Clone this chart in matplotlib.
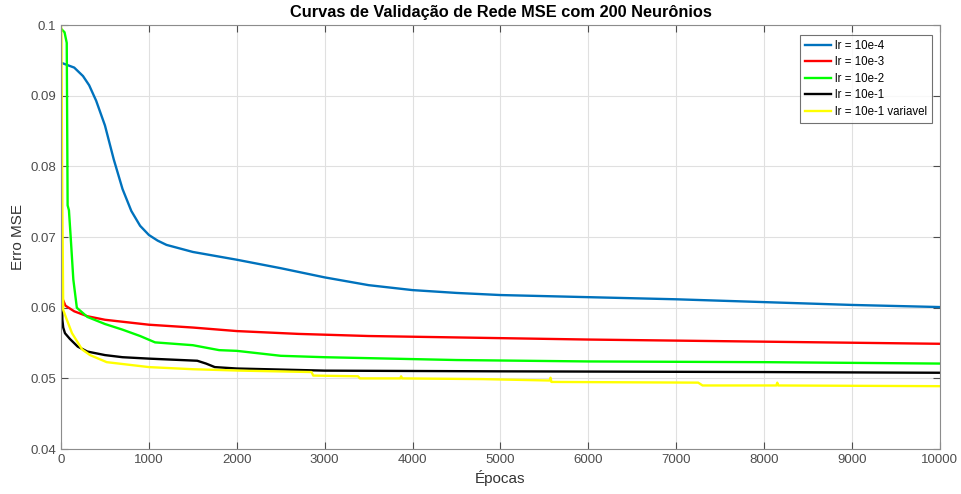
import matplotlib
matplotlib.use("Agg")
import matplotlib.pyplot as plt

plt.rcParams['font.family'] = ['Liberation Sans', 'DejaVu Sans']

# lr = 10e-4
ep_a = [20, 150, 250, 320, 400, 500, 600, 700, 800, 900, 1000, 1100, 1200, 1500, 2000,
        2500, 3000, 3500, 4000, 4500, 5000, 6000, 7000, 8000, 9000, 10000]
mse_a = [0.0946, 0.0940, 0.0928, 0.0915, 0.0893, 0.0858, 0.0810, 0.0768, 0.0737, 0.0716,
         0.0703, 0.0695, 0.0689, 0.0679, 0.0668, 0.0656, 0.0643, 0.0632, 0.0625, 0.0621,
         0.0618, 0.0615, 0.0612, 0.0608, 0.0604, 0.0601]

# lr = 10e-3
ep_b = [0, 20, 50, 150, 300, 500, 1000, 1500, 2000, 2700, 3500, 4500, 6000, 8000, 10000]
mse_b = [0.0640, 0.0612, 0.0603, 0.0595, 0.0588, 0.0583, 0.0576, 0.0572, 0.0567, 0.0563,
         0.0560, 0.0558, 0.0555, 0.0552, 0.0549]

# lr = 10e-2
ep_c = [0, 40, 65, 75, 90, 110, 140, 180, 300, 500, 700, 900, 1070, 1500, 1800, 2000,
        2500, 3000, 4500, 6000, 8000, 10000]
mse_c = [0.0995, 0.0990, 0.0975, 0.0745, 0.0738, 0.0700, 0.0640, 0.0600, 0.0587, 0.0577,
         0.0569, 0.0560, 0.0551, 0.0547, 0.0540, 0.0539, 0.0532, 0.0530, 0.0526, 0.0524,
         0.0523, 0.0521]

# lr = 10e-1
ep_d = [0, 5, 10, 15, 25, 45, 100, 190, 300, 500, 700, 1000, 1550, 1650, 1750, 2000,
        3000, 5000, 8000, 10000]
mse_d = [0.0872, 0.0700, 0.0620, 0.0583, 0.0572, 0.0564, 0.0556, 0.0545, 0.0538, 0.0533,
         0.0530, 0.0528, 0.0525, 0.0521, 0.0516, 0.0514, 0.0511, 0.0510, 0.0509, 0.0508]

# lr = 10e-1 variavel
ep_e = [0, 5, 12, 25, 60, 125, 240, 330, 520, 1000, 1500, 2040, 2850, 2870, 3380, 3400,
        3860, 3870, 3880, 4800, 5560, 5570, 5580, 5600, 7250, 7300, 8140, 8150, 8160, 10000]
mse_e = [0.1000, 0.0980, 0.0800, 0.0597, 0.0585, 0.0564, 0.0541, 0.0533, 0.0523, 0.0516,
         0.0513, 0.0511, 0.0509, 0.0504, 0.0503, 0.0500, 0.0500, 0.0503, 0.0500, 0.0499,
         0.0497, 0.0501, 0.0495, 0.0495, 0.0494, 0.0490, 0.0490, 0.0494, 0.0490, 0.0489]

series = [
    (ep_a, mse_a, 'lr = 10e-4', (0.0, 0.447, 0.741)),
    (ep_b, mse_b, 'lr = 10e-3', (1.0, 0.0, 0.0)),
    (ep_c, mse_c, 'lr = 10e-2', (0.0, 1.0, 0.0)),
    (ep_d, mse_d, 'lr = 10e-1', (0.0, 0.0, 0.0)),
    (ep_e, mse_e, 'lr = 10e-1 variavel', (1.0, 1.0, 0.0)),
]

x_ticks = list(range(0, 10001, 1000))
y_ticks = [0.04, 0.05, 0.06, 0.07, 0.08, 0.09, 0.1]
y_tick_labels = ['0.04', '0.05', '0.06', '0.07', '0.08', '0.09', '0.1']

fig = plt.figure(figsize=(9.61, 4.94), dpi=100)
ax = fig.add_axes([0.0635, 0.091, 0.9145, 0.858])

for ep, mse, label, color in series:
    ax.plot(ep, mse, color=color, linewidth=1.7, label=label)

ax.set_xlim(0, 10000)
ax.set_ylim(0.04, 0.1)
ax.set_xticks(x_ticks)
ax.set_xticklabels([str(t) for t in x_ticks])
ax.set_yticks(y_ticks)
ax.set_yticklabels(y_tick_labels)
ax.grid(True, color=(0.88, 0.88, 0.88), linewidth=0.8)
ax.set_axisbelow(True)
ax.tick_params(direction='in', length=5, colors=(0.3, 0.3, 0.3), labelsize=9.5,
               top=True, right=True)
for side in ax.spines.values():
    side.set_color((0.55, 0.55, 0.55))
    side.set_linewidth(0.8)

ax.set_xlabel('Épocas', fontsize=11, color=(0.2, 0.2, 0.2), labelpad=3)
ax.set_ylabel('Erro MSE', fontsize=11, color=(0.2, 0.2, 0.2), labelpad=4)
ax.set_title('Curvas de Validação de Rede MSE com 200 Neurônios', fontsize=11.8,
             fontweight='bold', pad=6)

leg = ax.legend(loc='upper right', bbox_to_anchor=(0.9945, 0.985), fontsize=8.3,
                frameon=True, fancybox=False, handlelength=2.3, handletextpad=0.3,
                borderpad=0.4, labelspacing=0.4, borderaxespad=0.3)
leg.get_frame().set_edgecolor((0.3, 0.3, 0.3))
leg.get_frame().set_linewidth(0.8)

fig.savefig('out.png', dpi=100)
